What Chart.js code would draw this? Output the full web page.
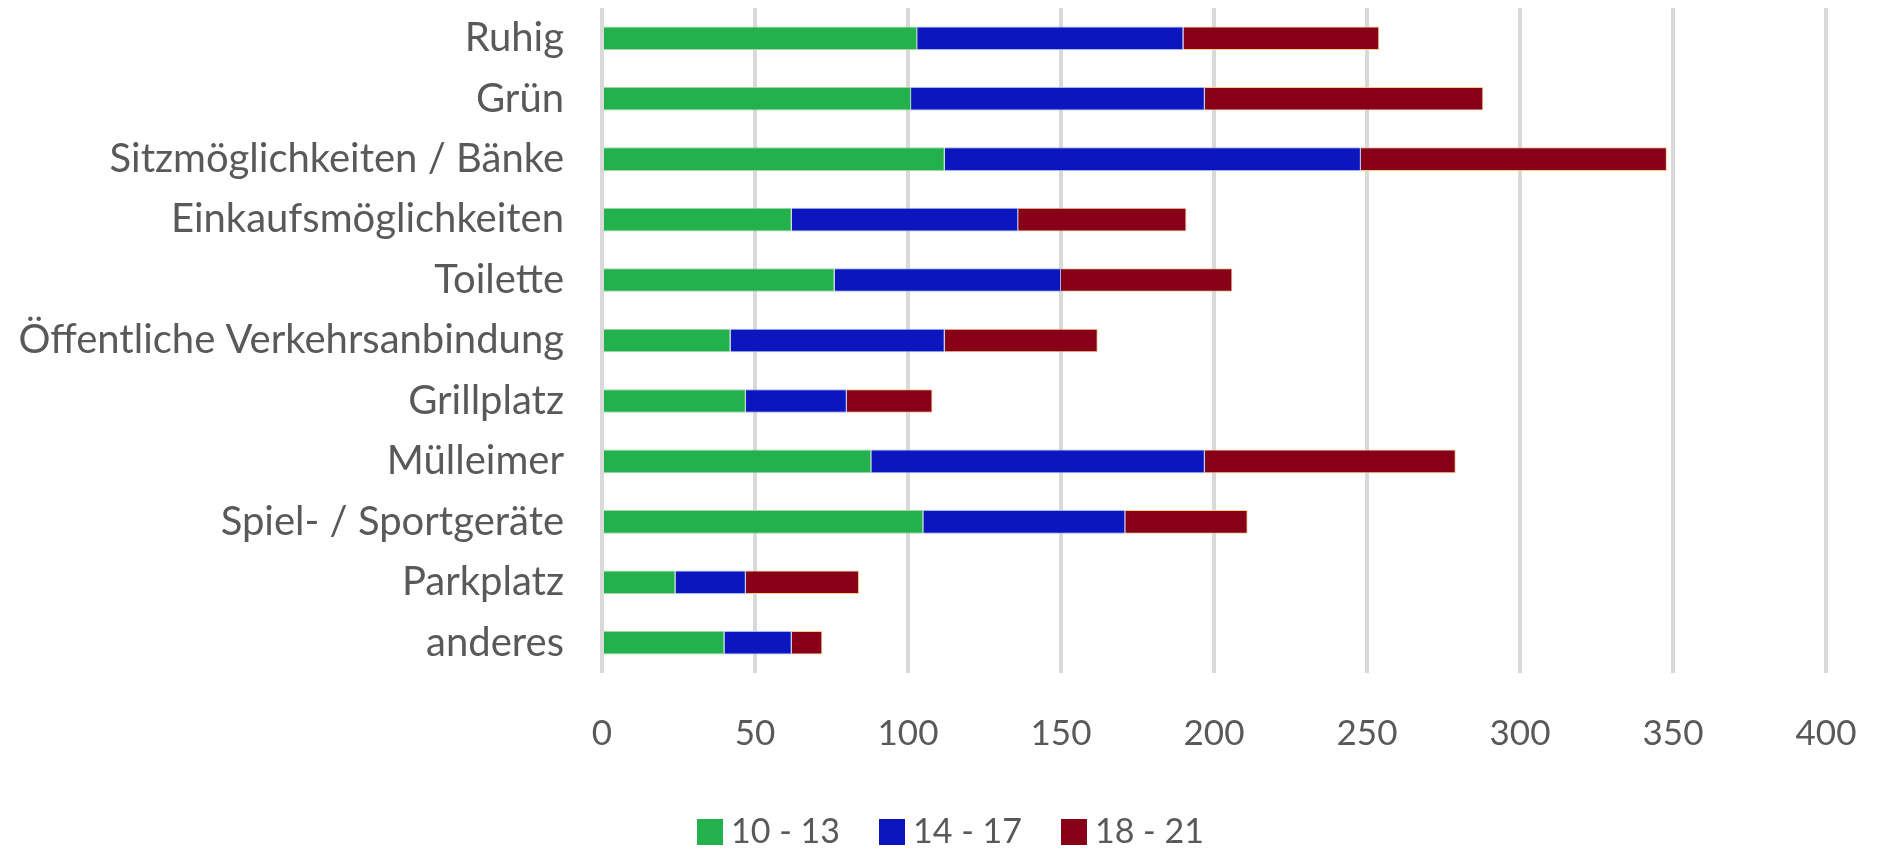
<!DOCTYPE html>
<html>
<head>
<meta charset="utf-8">
<script src="https://cdn.jsdelivr.net/npm/chart.js@4"></script>
<style>
  html, body { margin: 0; padding: 0; background: #ffffff; }
  #wrap { width: 1886px; height: 854px; }
</style>
</head>
<body>
<div id="wrap"><canvas id="c" width="1886" height="854"></canvas></div>
<script>
const categories = [
  "Ruhig",
  "Grün",
  "Sitzmöglichkeiten / Bänke",
  "Einkaufsmöglichkeiten",
  "Toilette",
  "Öffentliche Verkehrsanbindung",
  "Grillplatz",
  "Mülleimer",
  "Spiel- / Sportgeräte",
  "Parkplatz",
  "anderes"
];
const seriesNames = ["10 - 13", "14 - 17", "18 - 21"];
const age10to13 = [103, 101, 112, 62, 76, 42, 47, 88, 105, 24, 40];
const age14to17 = [87, 96, 136, 74, 74, 70, 33, 109, 66, 23, 22];
const age18to21 = [64, 91, 100, 55, 56, 50, 28, 82, 40, 37, 10];
const xMin = 0, xMax = 400, xStep = 50;

const seriesColors = ["#23B14D", "#0C16BF", "#870017"];
const seriesBorders = ["rgba(160,205,160,0.9)", "rgba(150,175,240,0.9)", "rgba(250,200,120,0.9)"];
const textColor = "#595959";
const fontFamily = "Lato, 'Noto Sans', sans-serif";

function makeSwatch(color) {
  const c = document.createElement("canvas");
  c.width = 26; c.height = 26;
  const g = c.getContext("2d");
  g.fillStyle = color;
  g.fillRect(0, 0, 26, 26);
  return c;
}
const swatches = seriesColors.map(makeSwatch);

new Chart(document.getElementById("c"), {
  type: "bar",
  data: {
    labels: categories,
    datasets: [
      { label: seriesNames[0], data: age10to13, backgroundColor: seriesColors[0], borderColor: seriesBorders[0], borderWidth: 1 },
      { label: seriesNames[1], data: age14to17, backgroundColor: seriesColors[1], borderColor: seriesBorders[1], borderWidth: 1 },
      { label: seriesNames[2], data: age18to21, backgroundColor: seriesColors[2], borderColor: seriesBorders[2], borderWidth: 1 }
    ]
  },
  options: {
    indexAxis: "y",
    responsive: false,
    animation: false,
    devicePixelRatio: 1,
    layout: { padding: { top: 8, right: -24, left: 0, bottom: -5 } },
    datasets: { bar: { categoryPercentage: 1.0, barPercentage: 0.39 } },
    plugins: {
      tooltip: { enabled: false },
      legend: {
        position: "bottom",
        labels: {
          color: textColor,
          font: { family: fontFamily, size: 34 },
          usePointStyle: true,
          pointStyleWidth: 8,
          boxHeight: 26,
          padding: 48,
          generateLabels: function (chart) {
            const items = Chart.defaults.plugins.legend.labels.generateLabels(chart);
            items.forEach(function (it, i) { it.pointStyle = swatches[i]; });
            return items;
          }
        }
      }
    },
    scales: {
      x: {
        stacked: true,
        min: xMin,
        max: xMax,
        ticks: { stepSize: xStep, color: textColor, font: { family: fontFamily, size: 35 }, padding: 40 },
        grid: { color: "#D9D9D9", lineWidth: 4, drawTicks: false },
        border: { display: false },
        afterFit: function (s) { s.paddingLeft = 0; s.paddingRight = 60; s.height -= 28; }
      },
      y: {
        stacked: true,
        ticks: { color: textColor, font: { family: fontFamily, size: 40 }, padding: 38 },
        grid: { display: false, drawTicks: false },
        border: { display: false },
        afterFit: function (s) { s.width = 602; s.paddingTop = 0; s.paddingBottom = 0; }
      }
    }
  }
});
</script>
</body>
</html>
